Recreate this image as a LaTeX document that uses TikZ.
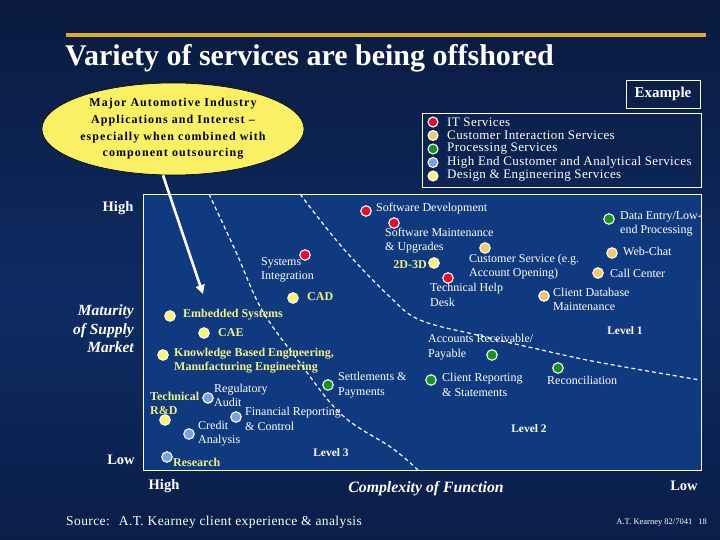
\documentclass[tikz,border=0pt]{standalone}
\usepackage{fontspec}
\setmainfont{Liberation Serif}
\usetikzlibrary{arrows.meta,shapes.geometric}
\definecolor{bgtop}{RGB}{10,26,62}
\definecolor{bgmid}{RGB}{14,44,100}
\definecolor{bgbot}{RGB}{10,30,72}
\definecolor{panel}{RGB}{16,58,128}
\definecolor{gold}{RGB}{222,170,40}
\definecolor{itred}{RGB}{228,16,40}
\definecolor{ciorange}{RGB}{245,200,112}
\definecolor{procgreen}{RGB}{20,150,24}
\definecolor{hiblue}{RGB}{120,160,226}
\definecolor{desyellow}{RGB}{250,244,110}
\definecolor{ytext}{RGB}{240,240,130}
\definecolor{ellfill}{RGB}{250,240,100}
\tikzset{
  dot/.style={circle, draw=white, line width=1.1pt, minimum size=10.5pt, inner sep=0pt},
  lbl/.style={font=\fontsize{12}{14.5}\selectfont, text=white, align=left, inner sep=0pt, anchor=west},
  ylbl/.style={font=\bfseries\fontsize{12}{13.5}\selectfont, text=ytext, align=left, inner sep=0pt, anchor=west},
  lvl/.style={font=\bfseries\fontsize{11.5}{13}\selectfont, text=white, inner sep=0pt},
  axlbl/.style={font=\bfseries\fontsize{14.5}{16}\selectfont, text=white, inner sep=0pt},
  legtxt/.style={font=\fontsize{13}{13.5}\selectfont\addfontfeatures{LetterSpace=3}, text=white, inner sep=0pt, anchor=west},
  bound/.style={white, line width=1.2pt, dash pattern=on 4pt off 3pt}
}
\begin{document}
\begin{tikzpicture}[x=1pt,y=-1pt]
\useasboundingbox (0,0) rectangle (720,540);
% background
\shade[top color=bgtop, bottom color=bgmid] (0,0) rectangle (720,300);
\shade[top color=bgmid, bottom color=bgbot] (0,300) rectangle (720,540);
\fill[panel] (143,194) rectangle (701,470);
\draw[white, line width=0.8pt] (143,194) rectangle (701,470);
% title
\draw[gold, line width=3.5pt] (66,35) -- (706,35);
\node[anchor=west, inner sep=0pt, text=white, font=\bfseries\fontsize{30}{32}\selectfont] (title) at (65,58) {Variety of services are being offshored};
% ellipse callout
\node[ellipse, draw=black, line width=0.6pt, fill=ellfill, minimum width=252pt, minimum height=92pt, inner sep=0pt, align=center, font=\bfseries\fontsize{12}{16.7}\selectfont\addfontfeatures{LetterSpace=9}, text=black] (call) at (173,129) {Major Automotive Industry\\Applications and Interest --\\especially when combined with\\component outsourcing};
\coordinate (arrend) at (203,294);
\draw[white, line width=2.6pt, -{Triangle[length=9pt,width=9pt]}] (call.south) ++(-10,0) -- (arrend);
% Example box
\node[draw=white, line width=0.8pt, inner xsep=5pt, minimum width=74pt, minimum height=28pt, text=white, font=\bfseries\fontsize{15}{16}\selectfont] (example) at (663,94) {Example};
% legend
\draw[white, line width=0.8pt] (422,113) rectangle (701,187);
\foreach \c/\y/\t [count=\i] in {itred/122/IT Services, ciorange/135.5/Customer Interaction Services, procgreen/149/Processing Services, hiblue/162.5/High End Customer and Analytical Services, desyellow/176/Design \& Engineering Services}{
  \node[dot, fill=\c, minimum size=10pt] (leg\i) at (433,\y) {};
  \node[legtxt] (legt\i) at (447,\y) {\t};
}
% boundaries
\draw[bound] plot[smooth, tension=0.6] coordinates {(209,194) (236,252) (262,310) (300,363) (342,415) (392,448) (418,470)};
\draw[bound] plot[smooth, tension=0.6] coordinates {(300,194) (342,247) (390,297) (420,320) (477,335) (533,348) (597,362) (700,380)};
% axis labels
\node[axlbl] (yhigh) at (118,208) {High};
\node[axlbl, font=\bfseries\itshape\fontsize{15.5}{18.5}\selectfont, align=right, anchor=east] (ylab) at (134,329) {Maturity\\of Supply\\Market};
\node[axlbl] (ylow) at (121,460) {Low};
\node[axlbl] (xhigh) at (164,486) {High};
\node[axlbl, font=\bfseries\itshape\fontsize{15.8}{17}\selectfont] (xlab) at (426,489) {Complexity of Function};
\node[axlbl] (xlow) at (684,486) {Low};
% source
\node[anchor=west, inner sep=0pt, text=white, font=\fontsize{13.5}{15}\selectfont\addfontfeatures{LetterSpace=3}] (src) at (66,522) {Source:\hspace{9pt}A.T. Kearney client experience \& analysis};
\node[anchor=east, inner sep=0pt, text=white, font=\fontsize{8.5}{9}\selectfont] (ref) at (707,523) {A.T. Kearney 82/7041\hspace{6pt}18};
% level labels
\node[lvl] (l1) at (625,331) {Level 1};
\node[lvl] (l2) at (529,429) {Level 2};
\node[lvl] (l3) at (331,453) {Level 3};
% IT services (red)
\node[dot, fill=itred] (swdev) at (366,211) {};
\node[lbl] at (376,209) {Software Development};
\node[dot, fill=itred] (swmaint) at (394,223) {};
\node[lbl] at (385,240.5) {Software Maintenance\\\& Upgrades};
\node[dot, fill=itred] (sysint) at (305,255) {};
\node[lbl] at (261,270) {Systems\\Integration};
\node[dot, fill=itred] (thd) at (448,278) {};
\node[lbl] at (430,295) {Technical Help\\Desk};
% Design & engineering (yellow)
\node[dot, fill=desyellow] (d2d3d) at (434,263) {};
\node[ylbl, anchor=east] at (427,265) {2D-3D};
\node[dot, fill=desyellow] (cad) at (293,298) {};
\node[ylbl] at (307,297) {CAD};
\node[dot, fill=desyellow] (emb) at (170,316) {};
\node[ylbl] at (183,315) {Embedded Systems};
\node[dot, fill=desyellow] (cae) at (204,333) {};
\node[ylbl] at (218,333) {CAE};
\node[dot, fill=desyellow] (kbe) at (163,355) {};
\node[ylbl] at (174,360.5) {Knowledge Based Engineering,\\Manufacturing Engineering};
\node[dot, fill=desyellow] (trd) at (165,420) {};
\node[ylbl] at (150,403.5) {Technical\\R\&D};
% High end analytical (blue)
\node[dot, fill=hiblue] (research) at (167,457) {};
\node[ylbl] at (173,462) {Research};
\node[dot, fill=hiblue] (regaud) at (208,398) {};
\node[lbl] at (214,395.5) {Regulatory\\Audit};
\node[dot, fill=hiblue] (finrep) at (236,417) {};
\node[lbl] at (245,419) {Financial Reporting\\\& Control};
\node[dot, fill=hiblue] (credit) at (189,434) {};
\node[lbl] at (198,433.5) {Credit\\Analysis};
% Customer interaction (orange)
\node[dot, fill=ciorange] (custsvc) at (485,248) {};
\node[lbl] at (469,266.5) {Customer Service (e.g.\\Account Opening)};
\node[dot, fill=ciorange] (webchat) at (612,253) {};
\node[lbl] at (623,251) {Web-Chat};
\node[dot, fill=ciorange] (callc) at (598,273) {};
\node[lbl] at (610,273) {Call Center};
\node[dot, fill=ciorange] (cdb) at (544,296) {};
\node[lbl] at (553,299.5) {Client Database\\Maintenance};
% Processing (green)
\node[dot, fill=procgreen] (dataent) at (609,219) {};
\node[lbl] at (620,224) {Data Entry/Low-\\end Processing};
\node[dot, fill=procgreen] (arap) at (492,355) {};
\node[lbl] at (428,347) {Accounts Receivable/\\Payable};
\node[dot, fill=procgreen] (recon) at (558,368) {};
\node[lbl] at (547,380) {Reconciliation};
\node[dot, fill=procgreen] (clrep) at (431,380) {};
\node[lbl] at (442,385) {Client Reporting\\\& Statements};
\node[dot, fill=procgreen] (settle) at (328,385) {};
\node[lbl] at (338,385) {Settlements \&\\Payments};
\end{tikzpicture}
\end{document}
